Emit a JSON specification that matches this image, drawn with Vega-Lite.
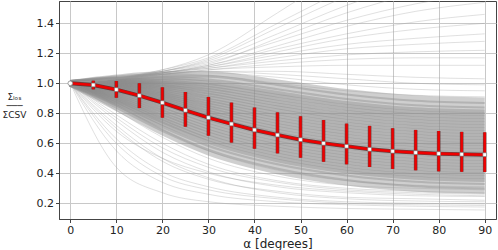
{
"$schema":"https://vega.github.io/schema/vega-lite/v6.json",
"width":437,"height":218,
"autosize":{"type":"none"},
"padding":{"left":59,"top":1,"right":2,"bottom":31},
"config":{"view":{"stroke":"#444","strokeWidth":1},"font":"DejaVu Sans",
 "axis":{"grid":true,"gridColor":"#c8c8c8","gridWidth":1,"zindex":1,"tickColor":"#444","tickSize":3.5,"domainColor":"#444","labelFontSize":11,"labelColor":"#222","labelPadding":2,"titleFontWeight":"normal","titleColor":"#222"}},
"datasets":{
"lines":[
{"id":1,"k":"c","a":0,"v":1},{"id":1,"k":"c","a":10,"v":0.838},{"id":1,"k":"c","a":20,"v":0.674},{"id":1,"k":"c","a":30,"v":0.541},{"id":1,"k":"c","a":45,"v":0.415},{"id":1,"k":"c","a":60,"v":0.34},{"id":1,"k":"c","a":75,"v":0.298},{"id":1,"k":"c","a":90,"v":0.284},
{"id":2,"k":"c","a":0,"v":1},{"id":2,"k":"c","a":10,"v":0.853},{"id":2,"k":"c","a":20,"v":0.699},{"id":2,"k":"c","a":30,"v":0.569},{"id":2,"k":"c","a":45,"v":0.445},{"id":2,"k":"c","a":60,"v":0.37},{"id":2,"k":"c","a":75,"v":0.328},{"id":2,"k":"c","a":90,"v":0.314},
{"id":3,"k":"c","a":0,"v":1},{"id":3,"k":"c","a":10,"v":0.868},{"id":3,"k":"c","a":20,"v":0.723},{"id":3,"k":"c","a":30,"v":0.598},{"id":3,"k":"c","a":45,"v":0.475},{"id":3,"k":"c","a":60,"v":0.4},{"id":3,"k":"c","a":75,"v":0.358},{"id":3,"k":"c","a":90,"v":0.344},
{"id":4,"k":"c","a":0,"v":1},{"id":4,"k":"c","a":10,"v":0.878},{"id":4,"k":"c","a":20,"v":0.740},{"id":4,"k":"c","a":30,"v":0.617},{"id":4,"k":"c","a":45,"v":0.495},{"id":4,"k":"c","a":60,"v":0.42},{"id":4,"k":"c","a":75,"v":0.378},{"id":4,"k":"c","a":90,"v":0.364},
{"id":5,"k":"c","a":0,"v":1},{"id":5,"k":"c","a":10,"v":0.888},{"id":5,"k":"c","a":20,"v":0.756},{"id":5,"k":"c","a":30,"v":0.637},{"id":5,"k":"c","a":45,"v":0.515},{"id":5,"k":"c","a":60,"v":0.44},{"id":5,"k":"c","a":75,"v":0.398},{"id":5,"k":"c","a":90,"v":0.384},
{"id":6,"k":"c","a":0,"v":1},{"id":6,"k":"c","a":10,"v":0.898},{"id":6,"k":"c","a":20,"v":0.773},{"id":6,"k":"c","a":30,"v":0.656},{"id":6,"k":"c","a":45,"v":0.535},{"id":6,"k":"c","a":60,"v":0.46},{"id":6,"k":"c","a":75,"v":0.418},{"id":6,"k":"c","a":90,"v":0.404},
{"id":7,"k":"c","a":0,"v":1},{"id":7,"k":"c","a":10,"v":0.908},{"id":7,"k":"c","a":20,"v":0.789},{"id":7,"k":"c","a":30,"v":0.675},{"id":7,"k":"c","a":45,"v":0.555},{"id":7,"k":"c","a":60,"v":0.48},{"id":7,"k":"c","a":75,"v":0.438},{"id":7,"k":"c","a":90,"v":0.424},
{"id":8,"k":"c","a":0,"v":1},{"id":8,"k":"c","a":10,"v":0.918},{"id":8,"k":"c","a":20,"v":0.805},{"id":8,"k":"c","a":30,"v":0.694},{"id":8,"k":"c","a":45,"v":0.575},{"id":8,"k":"c","a":60,"v":0.5},{"id":8,"k":"c","a":75,"v":0.458},{"id":8,"k":"c","a":90,"v":0.444},
{"id":9,"k":"c","a":0,"v":1},{"id":9,"k":"c","a":10,"v":0.928},{"id":9,"k":"c","a":20,"v":0.822},{"id":9,"k":"c","a":30,"v":0.713},{"id":9,"k":"c","a":45,"v":0.595},{"id":9,"k":"c","a":60,"v":0.52},{"id":9,"k":"c","a":75,"v":0.478},{"id":9,"k":"c","a":90,"v":0.464},
{"id":10,"k":"c","a":0,"v":1},{"id":10,"k":"c","a":10,"v":0.938},{"id":10,"k":"c","a":20,"v":0.838},{"id":10,"k":"c","a":30,"v":0.733},{"id":10,"k":"c","a":45,"v":0.615},{"id":10,"k":"c","a":60,"v":0.54},{"id":10,"k":"c","a":75,"v":0.498},{"id":10,"k":"c","a":90,"v":0.484},
{"id":11,"k":"c","a":0,"v":1},{"id":11,"k":"c","a":10,"v":0.948},{"id":11,"k":"c","a":20,"v":0.855},{"id":11,"k":"c","a":30,"v":0.752},{"id":11,"k":"c","a":45,"v":0.635},{"id":11,"k":"c","a":60,"v":0.56},{"id":11,"k":"c","a":75,"v":0.518},{"id":11,"k":"c","a":90,"v":0.504},
{"id":12,"k":"c","a":0,"v":1},{"id":12,"k":"c","a":10,"v":0.958},{"id":12,"k":"c","a":20,"v":0.871},{"id":12,"k":"c","a":30,"v":0.771},{"id":12,"k":"c","a":45,"v":0.655},{"id":12,"k":"c","a":60,"v":0.58},{"id":12,"k":"c","a":75,"v":0.538},{"id":12,"k":"c","a":90,"v":0.524},
{"id":13,"k":"c","a":0,"v":1},{"id":13,"k":"c","a":10,"v":0.962},{"id":13,"k":"c","a":20,"v":0.881},{"id":13,"k":"c","a":30,"v":0.787},{"id":13,"k":"c","a":45,"v":0.674},{"id":13,"k":"c","a":60,"v":0.6},{"id":13,"k":"c","a":75,"v":0.558},{"id":13,"k":"c","a":90,"v":0.544},
{"id":14,"k":"c","a":0,"v":1},{"id":14,"k":"c","a":10,"v":0.967},{"id":14,"k":"c","a":20,"v":0.892},{"id":14,"k":"c","a":30,"v":0.803},{"id":14,"k":"c","a":45,"v":0.694},{"id":14,"k":"c","a":60,"v":0.62},{"id":14,"k":"c","a":75,"v":0.578},{"id":14,"k":"c","a":90,"v":0.564},
{"id":15,"k":"c","a":0,"v":1},{"id":15,"k":"c","a":10,"v":0.971},{"id":15,"k":"c","a":20,"v":0.902},{"id":15,"k":"c","a":30,"v":0.819},{"id":15,"k":"c","a":45,"v":0.713},{"id":15,"k":"c","a":60,"v":0.64},{"id":15,"k":"c","a":75,"v":0.598},{"id":15,"k":"c","a":90,"v":0.584},
{"id":16,"k":"c","a":0,"v":1},{"id":16,"k":"c","a":10,"v":0.976},{"id":16,"k":"c","a":20,"v":0.913},{"id":16,"k":"c","a":30,"v":0.835},{"id":16,"k":"c","a":45,"v":0.733},{"id":16,"k":"c","a":60,"v":0.66},{"id":16,"k":"c","a":75,"v":0.618},{"id":16,"k":"c","a":90,"v":0.604},
{"id":17,"k":"c","a":0,"v":1},{"id":17,"k":"c","a":10,"v":0.980},{"id":17,"k":"c","a":20,"v":0.923},{"id":17,"k":"c","a":30,"v":0.851},{"id":17,"k":"c","a":45,"v":0.752},{"id":17,"k":"c","a":60,"v":0.68},{"id":17,"k":"c","a":75,"v":0.638},{"id":17,"k":"c","a":90,"v":0.624},
{"id":18,"k":"c","a":0,"v":1},{"id":18,"k":"c","a":10,"v":0.984},{"id":18,"k":"c","a":20,"v":0.933},{"id":18,"k":"c","a":30,"v":0.867},{"id":18,"k":"c","a":45,"v":0.771},{"id":18,"k":"c","a":60,"v":0.70},{"id":18,"k":"c","a":75,"v":0.658},{"id":18,"k":"c","a":90,"v":0.644},
{"id":19,"k":"c","a":0,"v":1},{"id":19,"k":"c","a":10,"v":0.989},{"id":19,"k":"c","a":20,"v":0.944},{"id":19,"k":"c","a":30,"v":0.883},{"id":19,"k":"c","a":45,"v":0.791},{"id":19,"k":"c","a":60,"v":0.72},{"id":19,"k":"c","a":75,"v":0.678},{"id":19,"k":"c","a":90,"v":0.664},
{"id":20,"k":"c","a":0,"v":1},{"id":20,"k":"c","a":10,"v":0.993},{"id":20,"k":"c","a":20,"v":0.954},{"id":20,"k":"c","a":30,"v":0.899},{"id":20,"k":"c","a":45,"v":0.810},{"id":20,"k":"c","a":60,"v":0.74},{"id":20,"k":"c","a":75,"v":0.698},{"id":20,"k":"c","a":90,"v":0.684},
{"id":21,"k":"c","a":0,"v":1},{"id":21,"k":"c","a":10,"v":0.998},{"id":21,"k":"c","a":20,"v":0.965},{"id":21,"k":"c","a":30,"v":0.915},{"id":21,"k":"c","a":45,"v":0.830},{"id":21,"k":"c","a":60,"v":0.76},{"id":21,"k":"c","a":75,"v":0.718},{"id":21,"k":"c","a":90,"v":0.704},
{"id":22,"k":"c","a":0,"v":1},{"id":22,"k":"c","a":10,"v":1.002},{"id":22,"k":"c","a":20,"v":0.975},{"id":22,"k":"c","a":30,"v":0.931},{"id":22,"k":"c","a":45,"v":0.849},{"id":22,"k":"c","a":60,"v":0.78},{"id":22,"k":"c","a":75,"v":0.738},{"id":22,"k":"c","a":90,"v":0.724},
{"id":23,"k":"c","a":0,"v":1},{"id":23,"k":"c","a":10,"v":1.006},{"id":23,"k":"c","a":20,"v":0.985},{"id":23,"k":"c","a":30,"v":0.947},{"id":23,"k":"c","a":45,"v":0.868},{"id":23,"k":"c","a":60,"v":0.80},{"id":23,"k":"c","a":75,"v":0.758},{"id":23,"k":"c","a":90,"v":0.744},
{"id":24,"k":"c","a":0,"v":1},{"id":24,"k":"c","a":10,"v":1.011},{"id":24,"k":"c","a":20,"v":0.996},{"id":24,"k":"c","a":30,"v":0.963},{"id":24,"k":"c","a":45,"v":0.888},{"id":24,"k":"c","a":60,"v":0.82},{"id":24,"k":"c","a":75,"v":0.778},{"id":24,"k":"c","a":90,"v":0.764},
{"id":25,"k":"c","a":0,"v":1},{"id":25,"k":"c","a":10,"v":1.015},{"id":25,"k":"c","a":20,"v":1.006},{"id":25,"k":"c","a":30,"v":0.979},{"id":25,"k":"c","a":45,"v":0.907},{"id":25,"k":"c","a":60,"v":0.84},{"id":25,"k":"c","a":75,"v":0.798},{"id":25,"k":"c","a":90,"v":0.784},
{"id":26,"k":"c","a":0,"v":1},{"id":26,"k":"c","a":10,"v":1.020},{"id":26,"k":"c","a":20,"v":1.017},{"id":26,"k":"c","a":30,"v":0.995},{"id":26,"k":"c","a":45,"v":0.927},{"id":26,"k":"c","a":60,"v":0.86},{"id":26,"k":"c","a":75,"v":0.818},{"id":26,"k":"c","a":90,"v":0.804},
{"id":27,"k":"c","a":0,"v":1},{"id":27,"k":"c","a":10,"v":1.024},{"id":27,"k":"c","a":20,"v":1.027},{"id":27,"k":"c","a":30,"v":1.011},{"id":27,"k":"c","a":45,"v":0.946},{"id":27,"k":"c","a":60,"v":0.88},{"id":27,"k":"c","a":75,"v":0.838},{"id":27,"k":"c","a":90,"v":0.824},
{"id":28,"k":"c","a":0,"v":1},{"id":28,"k":"c","a":10,"v":1.031},{"id":28,"k":"c","a":20,"v":1.043},{"id":28,"k":"c","a":30,"v":1.035},{"id":28,"k":"c","a":45,"v":0.975},{"id":28,"k":"c","a":60,"v":0.91},{"id":28,"k":"c","a":75,"v":0.868},{"id":28,"k":"c","a":90,"v":0.854},
{"id":29,"k":"c","a":0,"v":1},{"id":29,"k":"c","a":10,"v":1.037},{"id":29,"k":"c","a":20,"v":1.058},{"id":29,"k":"c","a":30,"v":1.059},{"id":29,"k":"c","a":45,"v":1.004},{"id":29,"k":"c","a":60,"v":0.94},{"id":29,"k":"c","a":75,"v":0.898},{"id":29,"k":"c","a":90,"v":0.884},
{"id":30,"k":"t","a":0,"v":1},{"id":30,"k":"t","a":10,"v":1.035},{"id":30,"k":"t","a":20,"v":1.06},{"id":30,"k":"t","a":30,"v":1.07},{"id":30,"k":"t","a":45,"v":1.04},{"id":30,"k":"t","a":60,"v":0.99},{"id":30,"k":"t","a":75,"v":0.96},{"id":30,"k":"t","a":90,"v":0.95},
{"id":31,"k":"t","a":0,"v":1},{"id":31,"k":"t","a":10,"v":1.03},{"id":31,"k":"t","a":20,"v":1.06},{"id":31,"k":"t","a":30,"v":1.08},{"id":31,"k":"t","a":45,"v":1.08},{"id":31,"k":"t","a":60,"v":1.06},{"id":31,"k":"t","a":75,"v":1.04},{"id":31,"k":"t","a":90,"v":1.03},
{"id":32,"k":"t","a":0,"v":1},{"id":32,"k":"t","a":10,"v":1.03},{"id":32,"k":"t","a":20,"v":1.06},{"id":32,"k":"t","a":30,"v":1.09},{"id":32,"k":"t","a":45,"v":1.11},{"id":32,"k":"t","a":60,"v":1.12},{"id":32,"k":"t","a":75,"v":1.12},{"id":32,"k":"t","a":90,"v":1.12},
{"id":33,"k":"t","a":0,"v":1},{"id":33,"k":"t","a":10,"v":1.03},{"id":33,"k":"t","a":20,"v":1.07},{"id":33,"k":"t","a":30,"v":1.1},{"id":33,"k":"t","a":45,"v":1.15},{"id":33,"k":"t","a":60,"v":1.19},{"id":33,"k":"t","a":75,"v":1.21},{"id":33,"k":"t","a":90,"v":1.22},
{"id":34,"k":"t","a":0,"v":1},{"id":34,"k":"t","a":10,"v":1.03},{"id":34,"k":"t","a":20,"v":1.07},{"id":34,"k":"t","a":30,"v":1.11},{"id":34,"k":"t","a":45,"v":1.19},{"id":34,"k":"t","a":60,"v":1.26},{"id":34,"k":"t","a":75,"v":1.3},{"id":34,"k":"t","a":90,"v":1.33},
{"id":35,"k":"t","a":0,"v":1},{"id":35,"k":"t","a":10,"v":1.03},{"id":35,"k":"t","a":20,"v":1.07},{"id":35,"k":"t","a":30,"v":1.12},{"id":35,"k":"t","a":45,"v":1.23},{"id":35,"k":"t","a":60,"v":1.33},{"id":35,"k":"t","a":75,"v":1.41},{"id":35,"k":"t","a":90,"v":1.46},
{"id":36,"k":"t","a":0,"v":1},{"id":36,"k":"t","a":10,"v":1.03},{"id":36,"k":"t","a":20,"v":1.08},{"id":36,"k":"t","a":30,"v":1.14},{"id":36,"k":"t","a":45,"v":1.28},{"id":36,"k":"t","a":60,"v":1.42},{"id":36,"k":"t","a":75,"v":1.53},{"id":36,"k":"t","a":90,"v":1.6},
{"id":37,"k":"t","a":0,"v":1},{"id":37,"k":"t","a":10,"v":1.03},{"id":37,"k":"t","a":20,"v":1.08},{"id":37,"k":"t","a":30,"v":1.15},{"id":37,"k":"t","a":45,"v":1.33},{"id":37,"k":"t","a":60,"v":1.52},{"id":37,"k":"t","a":75,"v":1.67},{"id":37,"k":"t","a":90,"v":1.78},
{"id":38,"k":"t","a":0,"v":1},{"id":38,"k":"t","a":10,"v":1.035},{"id":38,"k":"t","a":20,"v":1.09},{"id":38,"k":"t","a":30,"v":1.17},{"id":38,"k":"t","a":45,"v":1.4},{"id":38,"k":"t","a":60,"v":1.63},{"id":38,"k":"t","a":75,"v":1.83},{"id":38,"k":"t","a":90,"v":1.98},
{"id":39,"k":"t","a":0,"v":1},{"id":39,"k":"t","a":10,"v":1.035},{"id":39,"k":"t","a":20,"v":1.09},{"id":39,"k":"t","a":30,"v":1.19},{"id":39,"k":"t","a":45,"v":1.47},{"id":39,"k":"t","a":60,"v":1.76},{"id":39,"k":"t","a":75,"v":2.0},{"id":39,"k":"t","a":90,"v":2.2},
{"id":40,"k":"t","a":0,"v":1},{"id":40,"k":"t","a":10,"v":1.03},{"id":40,"k":"t","a":20,"v":1.06},{"id":40,"k":"t","a":30,"v":1.09},{"id":40,"k":"t","a":45,"v":1.13},{"id":40,"k":"t","a":60,"v":1.16},{"id":40,"k":"t","a":75,"v":1.17},{"id":40,"k":"t","a":90,"v":1.17},
{"id":41,"k":"t","a":0,"v":1},{"id":41,"k":"t","a":10,"v":1.03},{"id":41,"k":"t","a":20,"v":1.07},{"id":41,"k":"t","a":30,"v":1.11},{"id":41,"k":"t","a":45,"v":1.21},{"id":41,"k":"t","a":60,"v":1.3},{"id":41,"k":"t","a":75,"v":1.36},{"id":41,"k":"t","a":90,"v":1.4},
{"id":42,"k":"t","a":0,"v":1},{"id":42,"k":"t","a":10,"v":1.03},{"id":42,"k":"t","a":20,"v":1.07},{"id":42,"k":"t","a":30,"v":1.12},{"id":42,"k":"t","a":45,"v":1.25},{"id":42,"k":"t","a":60,"v":1.38},{"id":42,"k":"t","a":75,"v":1.48},{"id":42,"k":"t","a":90,"v":1.54},
{"id":43,"k":"t","a":0,"v":1},{"id":43,"k":"t","a":10,"v":1.03},{"id":43,"k":"t","a":20,"v":1.08},{"id":43,"k":"t","a":30,"v":1.13},{"id":43,"k":"t","a":45,"v":1.3},{"id":43,"k":"t","a":60,"v":1.47},{"id":43,"k":"t","a":75,"v":1.6},{"id":43,"k":"t","a":90,"v":1.7},
{"id":44,"k":"t","a":0,"v":1},{"id":44,"k":"t","a":10,"v":1.03},{"id":44,"k":"t","a":20,"v":1.06},{"id":44,"k":"t","a":30,"v":1.08},{"id":44,"k":"t","a":45,"v":1.06},{"id":44,"k":"t","a":60,"v":1.03},{"id":44,"k":"t","a":75,"v":1.0},{"id":44,"k":"t","a":90,"v":0.99},
{"id":45,"k":"t","a":0,"v":1},{"id":45,"k":"t","a":10,"v":1.03},{"id":45,"k":"t","a":20,"v":1.05},{"id":45,"k":"t","a":30,"v":1.05},{"id":45,"k":"t","a":45,"v":1.0},{"id":45,"k":"t","a":60,"v":0.95},{"id":45,"k":"t","a":75,"v":0.92},{"id":45,"k":"t","a":90,"v":0.91},
{"id":46,"k":"t","a":0,"v":1},{"id":46,"k":"t","a":10,"v":1.03},{"id":46,"k":"t","a":20,"v":1.07},{"id":46,"k":"t","a":30,"v":1.1},{"id":46,"k":"t","a":45,"v":1.17},{"id":46,"k":"t","a":60,"v":1.23},{"id":46,"k":"t","a":75,"v":1.26},{"id":46,"k":"t","a":90,"v":1.28},
{"id":47,"k":"t","a":0,"v":1},{"id":47,"k":"t","a":10,"v":1.035},{"id":47,"k":"t","a":20,"v":1.08},{"id":47,"k":"t","a":30,"v":1.16},{"id":47,"k":"t","a":45,"v":1.37},{"id":47,"k":"t","a":60,"v":1.58},{"id":47,"k":"t","a":75,"v":1.75},{"id":47,"k":"t","a":90,"v":1.88},
{"id":48,"k":"t","a":0,"v":1},{"id":48,"k":"t","a":10,"v":0.44},{"id":48,"k":"t","a":20,"v":0.27},{"id":48,"k":"t","a":30,"v":0.21},{"id":48,"k":"t","a":45,"v":0.18},{"id":48,"k":"t","a":60,"v":0.165},{"id":48,"k":"t","a":75,"v":0.16},{"id":48,"k":"t","a":90,"v":0.155},
{"id":49,"k":"t","a":0,"v":1},{"id":49,"k":"t","a":10,"v":0.55},{"id":49,"k":"t","a":20,"v":0.34},{"id":49,"k":"t","a":30,"v":0.26},{"id":49,"k":"t","a":45,"v":0.21},{"id":49,"k":"t","a":60,"v":0.19},{"id":49,"k":"t","a":75,"v":0.18},{"id":49,"k":"t","a":90,"v":0.175},
{"id":50,"k":"t","a":0,"v":1},{"id":50,"k":"t","a":10,"v":0.63},{"id":50,"k":"t","a":20,"v":0.41},{"id":50,"k":"t","a":30,"v":0.31},{"id":50,"k":"t","a":45,"v":0.24},{"id":50,"k":"t","a":60,"v":0.21},{"id":50,"k":"t","a":75,"v":0.2},{"id":50,"k":"t","a":90,"v":0.195},
{"id":51,"k":"t","a":0,"v":1},{"id":51,"k":"t","a":10,"v":0.7},{"id":51,"k":"t","a":20,"v":0.48},{"id":51,"k":"t","a":30,"v":0.36},{"id":51,"k":"t","a":45,"v":0.28},{"id":51,"k":"t","a":60,"v":0.24},{"id":51,"k":"t","a":75,"v":0.23},{"id":51,"k":"t","a":90,"v":0.22},
{"id":52,"k":"t","a":0,"v":1},{"id":52,"k":"t","a":10,"v":0.75},{"id":52,"k":"t","a":20,"v":0.54},{"id":52,"k":"t","a":30,"v":0.41},{"id":52,"k":"t","a":45,"v":0.31},{"id":52,"k":"t","a":60,"v":0.27},{"id":52,"k":"t","a":75,"v":0.25},{"id":52,"k":"t","a":90,"v":0.245},
{"id":53,"k":"t","a":0,"v":1},{"id":53,"k":"t","a":10,"v":0.79},{"id":53,"k":"t","a":20,"v":0.6},{"id":53,"k":"t","a":30,"v":0.46},{"id":53,"k":"t","a":45,"v":0.35},{"id":53,"k":"t","a":60,"v":0.3},{"id":53,"k":"t","a":75,"v":0.28},{"id":53,"k":"t","a":90,"v":0.27},
{"id":54,"k":"t","a":0,"v":1},{"id":54,"k":"t","a":10,"v":0.82},{"id":54,"k":"t","a":20,"v":0.64},{"id":54,"k":"t","a":30,"v":0.5},{"id":54,"k":"t","a":45,"v":0.38},{"id":54,"k":"t","a":60,"v":0.32},{"id":54,"k":"t","a":75,"v":0.3},{"id":54,"k":"t","a":90,"v":0.29},
{"id":55,"k":"t","a":0,"v":1},{"id":55,"k":"t","a":10,"v":0.85},{"id":55,"k":"t","a":20,"v":0.69},{"id":55,"k":"t","a":30,"v":0.55},{"id":55,"k":"t","a":45,"v":0.42},{"id":55,"k":"t","a":60,"v":0.35},{"id":55,"k":"t","a":75,"v":0.32},{"id":55,"k":"t","a":90,"v":0.31},
{"id":56,"k":"t","a":0,"v":1},{"id":56,"k":"t","a":10,"v":0.68},{"id":56,"k":"t","a":20,"v":0.5},{"id":56,"k":"t","a":30,"v":0.4},{"id":56,"k":"t","a":45,"v":0.32},{"id":56,"k":"t","a":60,"v":0.28},{"id":56,"k":"t","a":75,"v":0.26},{"id":56,"k":"t","a":90,"v":0.25},
{"id":57,"k":"t","a":0,"v":1},{"id":57,"k":"t","a":10,"v":0.77},{"id":57,"k":"t","a":20,"v":0.57},{"id":57,"k":"t","a":30,"v":0.44},{"id":57,"k":"t","a":45,"v":0.34},{"id":57,"k":"t","a":60,"v":0.29},{"id":57,"k":"t","a":75,"v":0.27},{"id":57,"k":"t","a":90,"v":0.26},
{"id":58,"k":"t","a":0,"v":1},{"id":58,"k":"t","a":10,"v":0.6},{"id":58,"k":"t","a":20,"v":0.38},{"id":58,"k":"t","a":30,"v":0.29},{"id":58,"k":"t","a":45,"v":0.23},{"id":58,"k":"t","a":60,"v":0.2},{"id":58,"k":"t","a":75,"v":0.19},{"id":58,"k":"t","a":90,"v":0.185},
{"id":59,"k":"t","a":0,"v":1},{"id":59,"k":"t","a":10,"v":0.72},{"id":59,"k":"t","a":20,"v":0.5},{"id":59,"k":"t","a":30,"v":0.37},{"id":59,"k":"t","a":45,"v":0.27},{"id":59,"k":"t","a":60,"v":0.23},{"id":59,"k":"t","a":75,"v":0.215},{"id":59,"k":"t","a":90,"v":0.21}
],
"red":[
{"a":0,"v":1.0,"lo":1.0,"hi":1.0},
{"a":5,"v":0.989,"lo":0.960,"hi":1.017},
{"a":10,"v":0.958,"lo":0.904,"hi":1.015},
{"a":15,"v":0.918,"lo":0.835,"hi":1.000},
{"a":20,"v":0.871,"lo":0.771,"hi":0.973},
{"a":25,"v":0.820,"lo":0.711,"hi":0.942},
{"a":30,"v":0.771,"lo":0.651,"hi":0.909},
{"a":35,"v":0.729,"lo":0.605,"hi":0.871},
{"a":40,"v":0.689,"lo":0.564,"hi":0.838},
{"a":45,"v":0.655,"lo":0.533,"hi":0.806},
{"a":50,"v":0.624,"lo":0.504,"hi":0.780},
{"a":55,"v":0.600,"lo":0.477,"hi":0.755},
{"a":60,"v":0.580,"lo":0.460,"hi":0.731},
{"a":65,"v":0.560,"lo":0.442,"hi":0.716},
{"a":70,"v":0.547,"lo":0.429,"hi":0.700},
{"a":75,"v":0.538,"lo":0.420,"hi":0.689},
{"a":80,"v":0.531,"lo":0.413,"hi":0.682},
{"a":85,"v":0.527,"lo":0.410,"hi":0.676},
{"a":90,"v":0.524,"lo":0.409,"hi":0.673}
]},
"encoding":{
 "x":{"field":"a","type":"quantitative","scale":{"domain":[-2.45,92.45],"nice":false,"zero":false},
  "axis":{"values":[0,10,20,30,40,50,60,70,80,90],"format":"d","title":"α [degrees]","titleFontSize":12,"titlePadding":3}},
 "y":{"field":"v","type":"quantitative","scale":{"domain":[0.095,1.549],"nice":false,"zero":false},
  "axis":{"values":[0.2,0.4,0.6,0.8,1.0,1.2,1.4],"format":".1f","title":["Σₗₒₛ","───","ΣCSV"],"titleAngle":0,"titleAlign":"center","titleBaseline":"middle","titleX":-45,"titleY":95,"titleFontSize":9,"titleLineHeight":9}}
},
"layer":[
 {"data":{"name":"lines"},"transform":[{"filter":"datum.k == 'c'"}],
  "mark":{"type":"line","interpolate":"monotone","clip":true,"color":"#8c8c8c","opacity":0.42,"strokeWidth":6.5},
  "encoding":{"detail":{"field":"id"}}},
 {"data":{"name":"lines"},"transform":[{"filter":"datum.k == 't'"}],
  "mark":{"type":"line","interpolate":"monotone","clip":true,"color":"#999999","opacity":0.3,"strokeWidth":1},
  "encoding":{"detail":{"field":"id"}}},
 {"data":{"name":"red"},"transform":[{"filter":"datum.a > 0"}],
  "mark":{"type":"rule","color":"#5a2020","strokeWidth":3.6,"opacity":0.8},
  "encoding":{"y":{"field":"lo","type":"quantitative"},"y2":{"field":"hi"}}},
 {"data":{"name":"red"},"transform":[{"filter":"datum.a > 0"}],
  "mark":{"type":"rule","color":"#ee0000","strokeWidth":2.4},
  "encoding":{"y":{"field":"lo","type":"quantitative"},"y2":{"field":"hi"}}},
 {"data":{"name":"red"},
  "mark":{"type":"line","color":"#5a2020","strokeWidth":4,"opacity":0.8},
  "encoding":{}},
 {"data":{"name":"red"},
  "mark":{"type":"line","color":"#ee0000","strokeWidth":2.6},
  "encoding":{}},
 {"data":{"name":"red"},"transform":[{"filter":"datum.a > 0"}],
  "mark":{"type":"point","shape":"square","filled":true,"color":"white","stroke":"#777777","strokeWidth":0.6,"size":14,"opacity":1},
  "encoding":{}},
 {"data":{"name":"red"},"transform":[{"filter":"datum.a == 0"}],
  "mark":{"type":"point","shape":"circle","filled":true,"color":"white","stroke":"#888888","strokeWidth":0.8,"size":22,"opacity":1},
  "encoding":{}}
]
}
